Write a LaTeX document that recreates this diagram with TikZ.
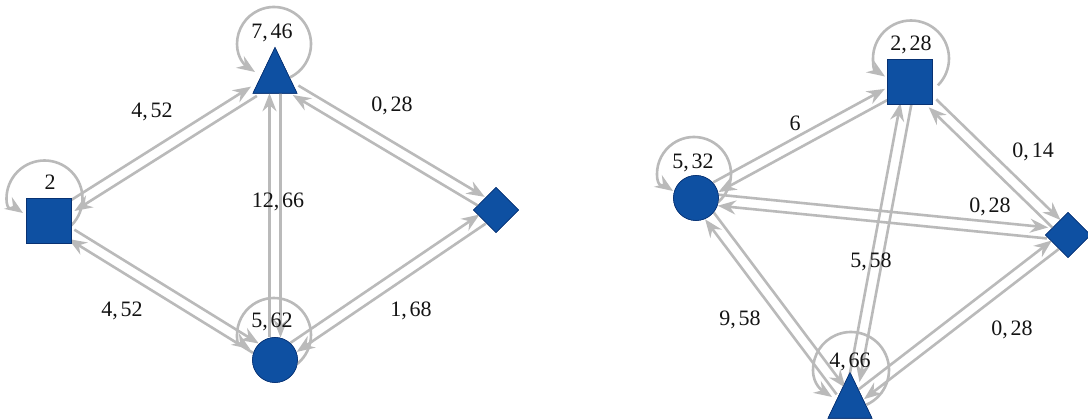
\documentclass[tikz,border=0pt]{standalone}
\usepackage{fontspec}
\setmainfont{Liberation Serif}
\usetikzlibrary{shapes.geometric,arrows.meta,calc}
\definecolor{nodeblue}{RGB}{14,80,162}
\definecolor{nodeedge}{RGB}{8,50,115}
\definecolor{edgegray}{RGB}{186,186,186}
\definecolor{lbltext}{RGB}{20,20,20}
\def\eoff{5.5pt}
\newcommand\dedge[2]{%
  \path (#1) -- (#2) coordinate[pos=0] (#1-#2-s) coordinate[pos=1] (#1-#2-t);
  \draw[edgeline] ($(#1-#2-s)!\eoff!90:(#1-#2-t)$) -- ($(#1-#2-t)!\eoff!-90:(#1-#2-s)$);
  \draw[edgeline] ($(#1-#2-t)!\eoff!90:(#1-#2-s)$) -- ($(#1-#2-s)!\eoff!-90:(#1-#2-t)$);
}
% node, loop centre dx, dy, radius, start angle, tip dx, tip dy
\newcommand\selfloop[7]{%
  \draw[edgeline] ($(#1)+(#2,#3)+(#5:#4)$) arc[start angle=#5, end angle=-180, radius=#4]
    .. controls +(0,0.4*#4) and ($(#1)+(#6,#7)+(-9,-6)$) .. ($(#1)+(#6,#7)$);
}
\begin{document}
\begin{tikzpicture}[x=1pt,y=-1pt,
  nodebase/.style={fill=nodeblue, draw=nodeedge, line width=0.6pt, inner sep=0pt, outer sep=0pt},
  sqnode/.style={nodebase, rectangle, minimum width=45pt, minimum height=45pt},
  cinode/.style={nodebase, circle, minimum size=45pt},
  dinode/.style={nodebase, diamond, minimum width=45pt, minimum height=45pt},
  trnode/.style={nodebase, regular polygon, regular polygon sides=3, minimum size=50.8pt, transform shape, yscale=1.2},
  lbl/.style={font=\fontsize{22}{22}\selectfont, text=lbltext, inner sep=0pt},
  edgeline/.style={draw=edgegray, line width=2.6pt, -{Stealth[length=18pt,width=14pt,inset=6pt]}}
]
\useasboundingbox (0,0) rectangle (1088,419);
\fill[white] (0,0) rectangle (1088,419);

% ---- left graph nodes
\node[sqnode] (sqL) at (49,220.5) {};
\node[trnode] (trL) at (275,78) {};
\node[cinode] (ciL) at (275,360) {};
\node[dinode] (diL) at (496,210) {};

% ---- right graph nodes
\node[cinode] (ciR) at (696,198) {};
\node[sqnode] (sqR) at (910,81.5) {};
\node[dinode] (diR) at (1068,235) {};
\node[trnode] (trR) at (850,403) {};

% ---- left edges
\dedge{sqL}{trL}
\dedge{trL}{diL}
\dedge{trL}{ciL}
\dedge{sqL}{ciL}
\dedge{ciL}{diL}

% ---- right edges
\dedge{ciR}{sqR}
\dedge{sqR}{diR}
\dedge{ciR}{diR}
\dedge{sqR}{trR}
\dedge{ciR}{trR}
\dedge{trR}{diR}

% ---- self loops
\selfloop{trL}{-1}{-34}{37}{66}{-20}{-6}
\selfloop{ciL}{-1}{-25}{37}{55}{-25}{-11}
\selfloop{sqL}{-4.5}{-22}{38}{45}{-26}{-7.5}
\selfloop{ciR}{-2}{-24}{37}{55}{-23}{-7}
\selfloop{sqR}{1}{-23}{38}{45}{-25}{-5}
\selfloop{trR}{1}{-33}{38}{66}{-18}{-6}

% ---- redraw nodes on top
\node[sqnode] at (sqL) {};
\node[trnode] at (trL) {};
\node[cinode] at (ciL) {};
\node[dinode] at (diL) {};
\node[cinode] at (ciR) {};
\node[sqnode] at (sqR) {};
\node[dinode] at (diR) {};
\node[trnode] at (trR) {};

% ---- left labels
\node[lbl] (l746) at (272,33) {7,\kern3pt46};
\node[lbl] (l2) at (50,182) {2};
\node[lbl] (l562) at (272,322) {5,\kern3pt62};
\node[lbl] (l452a) at (152,112) {4,\kern3pt52};
\node[lbl] (l028a) at (392,106) {0,\kern3pt28};
\node[lbl] (l1266) at (278,202) {12,\kern3pt66};
\node[lbl] (l452b) at (122,311) {4,\kern3pt52};
\node[lbl] (l168) at (411,311) {1,\kern3pt68};

% ---- right labels
\node[lbl] (l228) at (911,45) {2,\kern3pt28};
\node[lbl] (l6) at (795,123) {6};
\node[lbl] (l532) at (693,163) {5,\kern3pt32};
\node[lbl] (l014) at (1033,152) {0,\kern3pt14};
\node[lbl] (l028b) at (990,207) {0,\kern3pt28};
\node[lbl] (l558) at (871,262) {5,\kern3pt58};
\node[lbl] (l958) at (740,320) {9,\kern3pt58};
\node[lbl] (l028c) at (1012,330) {0,\kern3pt28};
\node[lbl] (l466) at (850,362) {4,\kern3pt66};
\end{tikzpicture}
\end{document}
